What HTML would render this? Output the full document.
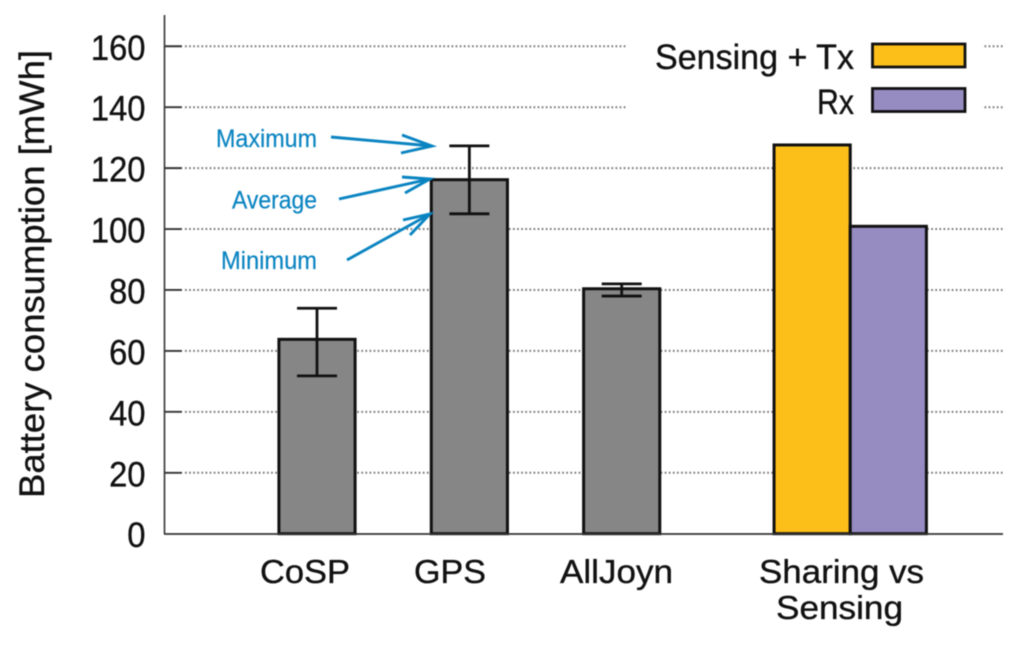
<!DOCTYPE html>
<html lang="en">
<head>
<meta charset="utf-8">
<title>Battery consumption chart</title>
<style>
html,body{margin:0;padding:0;background:#fff;width:1024px;height:645px;overflow:hidden}
svg{display:block;filter:blur(0.45px)}
text{font-family:"Liberation Sans",sans-serif;fill:#111;stroke:#111;stroke-width:0.35px}
</style>
</head>
<body>
<svg id="chart" xmlns="http://www.w3.org/2000/svg" width="1024" height="645" viewBox="0 0 1024 645">
  <g id="grid"></g>
  <rect x="626" y="20" width="356" height="100" fill="#fff"></rect>
  <g id="yticks"></g>
  <g id="bars"></g>
  <g id="errors"></g>
  <path d="M164.5 15V534" stroke="#333" stroke-width="1.6" fill="none"></path>
  <path d="M164 534H1003" stroke="#333" stroke-width="1.8" fill="none"></path>
  <text transform="translate(44 498) rotate(-90)" font-size="35" textLength="448" lengthAdjust="spacingAndGlyphs">Battery consumption [mWh]</text>
  <g id="xlabels"></g>
  <g id="legend">
    <text x="655" y="69" font-size="35" textLength="199" lengthAdjust="spacingAndGlyphs">Sensing + Tx</text>
    <rect x="872.5" y="44" width="92.5" height="23" fill="#fcbf1a" stroke="#111" stroke-width="2.8"></rect>
    <text x="817" y="114" font-size="35" textLength="37" lengthAdjust="spacingAndGlyphs">Rx</text>
    <rect x="872.5" y="88.5" width="92.5" height="23" fill="#968cc2" stroke="#111" stroke-width="2.8"></rect>
  </g>
  <g id="annotations" fill="none" stroke="#0a84c1" stroke-width="2.9">
    <text x="216" y="147" font-size="25" textLength="101" lengthAdjust="spacingAndGlyphs" style="fill:#0a84c1;stroke:#0a84c1;stroke-width:0.2px">Maximum</text>
    <path d="M331 137L432 146M402 135L432 146L401 153"></path>
    <text x="232" y="208.5" font-size="25" textLength="85" lengthAdjust="spacingAndGlyphs" style="fill:#0a84c1;stroke:#0a84c1;stroke-width:0.2px">Average</text>
    <path d="M339 199L430 179M402 177L430 179L405 193"></path>
    <text x="221" y="269" font-size="25" textLength="96" lengthAdjust="spacingAndGlyphs" style="fill:#0a84c1;stroke:#0a84c1;stroke-width:0.2px">Minimum</text>
    <path d="M347 260L430 214M403 220L430 214L410 235"></path>
  </g>
</svg>
<script>
const yTickValues = [0, 20, 40, 60, 80, 100, 120, 140, 160];
const categories = ["CoSP", "GPS", "AllJoyn"];
const categoryAverage = [63.8, 116.2, 80.4];
const categoryMax = [74, 127.3, 82];
const categoryMin = [51.8, 105, 78];
const sharingSeries = ["Sensing + Tx", "Rx"];
const sharingValues = [127.6, 100.9];

const NS = "http://www.w3.org/2000/svg";
const yScale = v => 533.7 - v * 3.0465;
const xScale = i => 317 + i * 152.35;
const BAR_W = 0.5;
const CAP = 20;
const SHARING_POS = 3.5;

function make(tag, parent, attrs) {
  const el = document.createElementNS(NS, tag);
  for (const k in attrs) el.setAttribute(k, attrs[k]);
  parent.appendChild(el);
  return el;
}
const grid = document.getElementById("grid");
const yticks = document.getElementById("yticks");
const bars = document.getElementById("bars");
const errors = document.getElementById("errors");
const xlabels = document.getElementById("xlabels");

yTickValues.forEach(v => {
  const y = yScale(v);
  if (v > 0) {
    const g = make("line", grid, {x1: 185, x2: 1003, y1: y, y2: y, stroke: "#777", "stroke-width": 2, "stroke-dasharray": "1.7 2.4"});
    
    
    const t = make("line", yticks, {x1: 164, x2: 182, y1: y, y2: y, stroke: "#333", "stroke-width": 1.9});
    
    
  }
  const label = make("text", yticks, {x: 145.5, y: y + 13.5, "font-size": 35, "text-anchor": "end", textLength: String(v).length * 18.2, lengthAdjust: "spacingAndGlyphs"});
  
  
  label.textContent = v;
});

function drawBar(pos, value, fill) {
  const left = xScale(pos - BAR_W / 2), right = xScale(pos + BAR_W / 2), top = yScale(value);
  return make("rect", bars, {x: left, y: top, width: right - left, height: yScale(0) - top, fill: fill, stroke: "#111", "stroke-width": 3});
}

categories.forEach((c, i) => {
  const bar = drawBar(i, categoryAverage[i], "#868686");
  
  
  const cx = xScale(i), hi = yScale(categoryMax[i]), lo = yScale(categoryMin[i]);
  const err = make("path", errors, {d: `M${cx} ${hi}V${lo}M${cx - CAP} ${hi}H${cx + CAP}M${cx - CAP} ${lo}H${cx + CAP}`, stroke: "#111", "stroke-width": 2.8, fill: "none"});
  
  
});

const sharingFills = ["#fcbf1a", "#968cc2"];
sharingSeries.forEach((s, i) => {
  const bar = drawBar(SHARING_POS + (i === 0 ? -BAR_W / 2 : BAR_W / 2), sharingValues[i], sharingFills[i]);
  
  
});

/* Hand-placed category captions, as in the original figure */
const captionLayout = [
  {text: categories[0], x: 260, y: 583, w: 90},
  {text: categories[1], x: 414, y: 583, w: 72},
  {text: categories[2], x: 560, y: 583, w: 113},
  {text: "Sharing vs", x: 759, y: 583, w: 165},
  {text: "Sensing", x: 776, y: 619, w: 127}
];
captionLayout.forEach(c => {
  const t = make("text", xlabels, {x: c.x, y: c.y, "font-size": 33, textLength: c.w, lengthAdjust: "spacingAndGlyphs"});
  
  
  t.textContent = c.text;
});
</script>
</body>
</html>
